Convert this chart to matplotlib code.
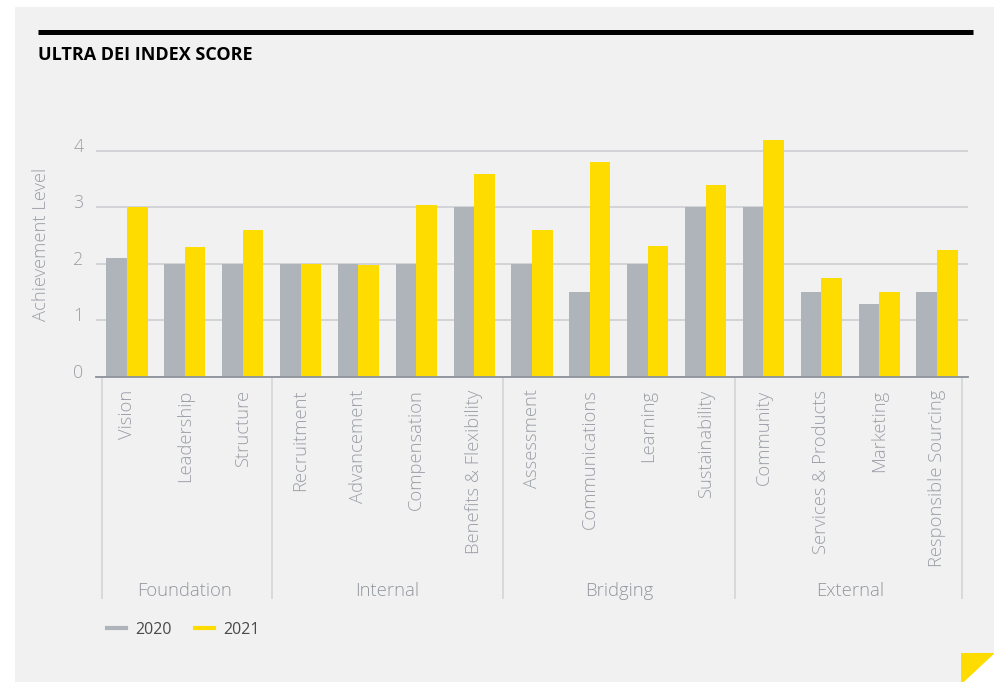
import matplotlib
matplotlib.use("Agg")
import matplotlib.pyplot as plt
import matplotlib.transforms as mtransforms
import numpy as np
from matplotlib.patches import Rectangle, Polygon
from matplotlib.lines import Line2D

plt.rcParams['font.family'] = ['Open Sans', 'DejaVu Sans']

# Datos del indice
categorias = ['Vision', 'Leadership', 'Structure',
              'Recruitment', 'Advancement', 'Compensation', 'Benefits & Flexibility',
              'Assessment', 'Communications', 'Learning', 'Sustainability',
              'Community', 'Services & Products', 'Marketing', 'Responsible Sourcing']
grupos = ['Foundation', 'Internal', 'Bridging', 'External']
tam_grupos = [3, 4, 4, 4]
valores_2020 = [2.1, 2.0, 2.0, 2.0, 2.0, 2.0, 3.0, 2.0, 1.5, 2.0, 3.0, 3.0, 1.5, 1.3, 1.5]
valores_2021 = [3.0, 2.3, 2.6, 2.0, 1.98, 3.04, 3.6, 2.6, 3.8, 2.32, 3.4, 4.2, 1.75, 1.5, 2.25]
anios = ['2020', '2021']

gris = '#afb3ba'
amarillo = '#fedc00'
texto_gris = '#9a9ea6'
peso = 'light'

W, H = 995, 682
fig = plt.figure(figsize=(W / 100, H / 100), dpi=100)
fig.patch.set_facecolor('white')


def px(x, y):
    return x / W, 1 - y / H


# Panel de fondo
fig.patches.append(Rectangle(px(15, 682), (W - 15) / W, (682 - 7) / H,
                             transform=fig.transFigure, facecolor='#f1f1f1',
                             edgecolor='none', zorder=0))
# Linea superior y titulo
fig.add_artist(Line2D([38 / W, 973 / W], [1 - 31.5 / H] * 2, color='black', lw=3.6,
                      solid_capstyle='butt'))
fig.text(38 / W, 1 - 55 / H, 'ULTRA DEI INDEX SCORE', fontsize=13, fontweight='bold',
         color='black', va='center', ha='left')

# Esquina amarilla
fig.patches.append(Polygon([px(961, 653), px(995, 653), px(964, 682), px(961, 682)],
                           closed=True, transform=fig.transFigure,
                           facecolor=amarillo, edgecolor='none', zorder=1))
fig.patches.append(Polygon([px(995, 653), px(995, 682), px(964, 682)],
                           closed=True, transform=fig.transFigure,
                           facecolor='white', edgecolor='none', zorder=1))

# Ejes
paso = 57.86
x0_px = 127
ymax = 4.3
y0_px, y4_px = 377, 151
alto_px = (y0_px - y4_px) / 4 * ymax
ax = fig.add_axes([96 / W, 1 - y0_px / H, (968 - 96) / W, alto_px / H])
ax.set_zorder(2)
ax.set_facecolor('none')
ax.set_xlim(-(x0_px - 96) / paso, (968 - x0_px) / paso)
ax.set_ylim(0, ymax)

x = np.arange(len(categorias))
ancho = 0.355
ax.bar(x - ancho / 2, valores_2020, ancho, color=gris, zorder=3)
ax.bar(x + ancho / 2, valores_2021, ancho, color=amarillo, zorder=3)

ax.set_yticks([0, 1, 2, 3, 4])
ax.yaxis.grid(True, color='#d3d4d8', lw=1.4, zorder=0)
ax.set_axisbelow(True)
for s in ['top', 'right', 'left']:
    ax.spines[s].set_visible(False)
ax.spines['bottom'].set_color('#8d929b')
ax.spines['bottom'].set_linewidth(1.3)
ax.spines['bottom'].set_zorder(4)

ax.set_xticks(x)
ax.set_xticklabels(categorias, rotation=90, fontsize=13.2, color=texto_gris, fontweight=peso)
ax.tick_params(axis='x', length=0, pad=9)
ax.tick_params(axis='y', length=0, pad=9, labelsize=12.8, labelcolor=texto_gris)
# numeros del eje y un poco por encima de la linea
subir = mtransforms.ScaledTranslation(0, 6 / 100, fig.dpi_scale_trans)
for lab in ax.get_yticklabels():
    lab.set_fontweight(peso)
    lab.set_transform(lab.get_transform() + subir)

fig.text(41 / W, 1 - 244 / H, 'Achievement Level', rotation=90, fontsize=13.2,
         color=texto_gris, fontweight=peso, ha='center', va='center')

# Separadores y nombres de grupo
fondo = -(598 - y0_px) / alto_px
limites = np.cumsum([0] + tam_grupos) - 0.5
limites[0] = -0.44
limites[-1] = 14.43
for lim in limites:
    ax.plot([lim, lim], [0, fondo], transform=ax.get_xaxis_transform(),
            color='#d8d9dc', lw=1.4, clip_on=False)
inicio = 0
for nombre, n in zip(grupos, tam_grupos):
    centro = inicio + (n - 1) / 2
    ax.text(centro, -(591 - y0_px) / alto_px, nombre, transform=ax.get_xaxis_transform(),
            ha='center', va='center', fontsize=13.3, color='#92969e', fontweight=peso)
    inicio += n

# Leyenda
handles = [Line2D([], [], color=gris, lw=3), Line2D([], [], color=amarillo, lw=3)]
fig.legend(handles, anios, loc='center left', bbox_to_anchor=(107 / W, 1 - 630 / H),
           frameon=False, ncol=2, fontsize=11.5, handlelength=1.2, handletextpad=0.6,
           columnspacing=1.4, borderpad=0, borderaxespad=0, labelcolor='#4a4a4a')

fig.savefig('out.png', dpi=100)
